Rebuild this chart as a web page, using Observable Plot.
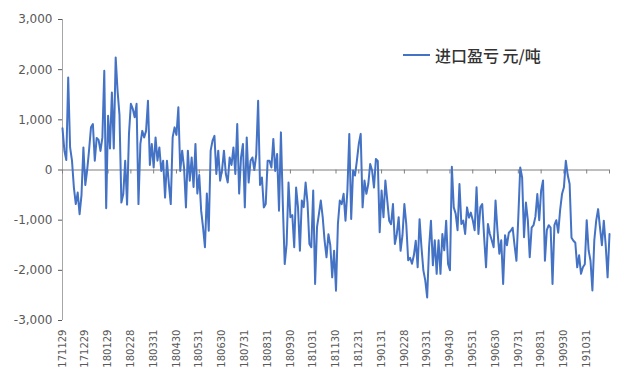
<!DOCTYPE html>
<html>
<head>
<meta charset="utf-8">
<script src="https://cdn.jsdelivr.net/npm/d3@7"></script>
<script src="https://cdn.jsdelivr.net/npm/@observablehq/plot@0.6"></script>
<style>
  body { margin: 0; background: #fff; }
  #chart { position: relative; width: 631px; height: 371px; }
  .legend {
    position: absolute; left: 403px; top: 43px;
    display: flex; align-items: center;
    font: 500 16px "Noto Sans CJK SC", sans-serif; color: #333;
  }
  .legend .swatch { width: 27px; height: 0; border-top: 2px solid #4472c4; margin-right: 5px; }
</style>
</head>
<body>
<div id="chart"></div>
<script>
// Series label
const seriesName = "进口盈亏 元/吨";

// Category labels shown under the axis (one every 12 observations)
const dateLabels = [
  "171129", "171229", "180129", "180228", "180331", "180430",
  "180531", "180630", "180731", "180831", "180930", "181031",
  "181130", "181231", "190131", "190228", "190331", "190430",
  "190531", "190630", "190731", "190831", "190930", "191031"
];
const pointsPerLabel = 12;

// Import profit / loss, yuan per tonne
const profit = [
  830, 385, 200, 1845, 450, 185, -350, -680, -450, -880, -500, 450,
  -300, 0, 400, 850, 915, 185, 640, 600, 380, 650, 1980, -760,
  1080, 430, 1545, 430, 2245, 1575, 1100, -650, -480, 185, -690, 720,
  1320, 1220, 1050, 1320, -680, 520, 780, 650, 780, 1380, 100, 520,
  50, 650, 185, 450, -20, 185, -550, 185, -280, -680, 650, 850,
  700, 1250, -20, 385, 50, -745, 385, -213, 250, -340, 520, -470,
  -100, -810, -1145, -1540, -470, -1210, 385, 585, 680, -80, 385, -213,
  0, 385, -80, -250, 250, 100, 450, -80, 915, -470, 250, 520,
  -745, 650, -250, 185, 250, 0, 300, 1380, -300, -150, -745, -680,
  185, 185, 50, 620, -20, 320, -810, 750, -680, -1875, -1480, -250,
  -940, -900, -1540, -350, -745, -1610, -610, -740, -250, -650, -1475, -1540,
  -410, -2270, -1140, -880, -610, -940, -1410, -1740, -1280, -1500, -2140, -1610,
  -2405, -1080, -610, -680, -475, -1010, -410, 720, -975, -10, -110, 185,
  520, 720, -745, -210, -475, -280, 120, -10, -350, 220, 180, -1240,
  -410, -940, -210, -610, -1010, -1080, -680, -1475, -1280, -940, -1610, -1300,
  -680, -1080, -1800, -1750, -1870, -1700, -1410, -1940, -980, -1540, -2000, -2200,
  -2540, -1540, -1010, -1900, -1400, -2070, -1400, -2070, -1275, -1600, -1010, -1875,
  -2000, 65, -745, -870, -1200, -280, -1075, -1010, -1275, -745, -950, -850,
  -1000, -1200, -345, -1275, -745, -680, -1340, -1940, -1075, -1275, -1400, -1540,
  -610, -1200, -1670, -1400, -2270, -1300, -1500, -1250, -1210, -1150, -1500, -1810,
  -930, 50, -150, -1340, -650, -1000, -1740, -1150, -1100, -930, -480, -1000,
  -410, -210, -1810, -1200, -1100, -1150, -2270, -1100, -1000, -1250, -800, -480,
  -345, 185, -100, -280, -1350, -1410, -1450, -1940, -1700, -2070, -1940, -1880,
  -1000, -1600, -1810, -2400, -1400, -1010, -780, -1150, -1500, -1010, -1500, -2140,
  -1275
];

const yTicks = [-3000, -2000, -1000, 0, 1000, 2000, 3000];

const W = 631, H = 371;
const margin = { top: 19, right: 22, bottom: 51, left: 62 };
const frameH = H - margin.top - margin.bottom;
const unitsPerPx = (yTicks[yTicks.length - 1] - yTicks[0]) / frameH;

const data = profit.map((v, i) => ({ i, v }));
const tickIdx = d3.range(0, dateLabels.length * pointsPerLabel + 1, pointsPerLabel);

// thousands separator with a plain hyphen for negatives
const fmt = d => (d < 0 ? "-" : "") + Math.abs(d).toLocaleString("en-US");

const chart = Plot.plot({
  width: W,
  height: H,
  marginTop: margin.top,
  marginRight: margin.right,
  marginBottom: margin.bottom,
  marginLeft: margin.left,
  style: { fontFamily: "DejaVu Sans", background: "#fff", overflow: "visible" },
  x: { domain: [0, tickIdx[tickIdx.length - 1]], label: null },
  y: { domain: [yTicks[0], yTicks[yTicks.length - 1]], label: null },
  marks: [
    // vertical value axis line
    Plot.ruleX([0], { stroke: "#a6a6a6", strokeWidth: 1 }),
    Plot.axisY({
      ticks: yTicks,
      tickFormat: fmt,
      tickSize: 4,
      tickPadding: 6,
      fontSize: 12,
      color: "#595959",
      label: null
    }),
    // horizontal category axis at zero, with small downward ticks
    Plot.ruleY([0], { stroke: "#7f7f7f", strokeWidth: 1 }),
    Plot.ruleX(tickIdx, { x: d => d, y1: 0, y2: -4 * unitsPerPx, stroke: "#7f7f7f", strokeWidth: 1 }),
    Plot.axisX({
      ticks: tickIdx.slice(0, -1),
      tickFormat: d => dateLabels[d / pointsPerLabel],
      tickSize: 0,
      tickPadding: 9,
      tickRotate: -90,
      fontSize: 10,
      color: "#595959",
      label: null
    }),
    Plot.line(data, { x: "i", y: "v", stroke: "#4472c4", strokeWidth: 2, strokeLinejoin: "round" })
  ]
});

const host = document.getElementById("chart");
host.appendChild(chart);

const legend = document.createElement("div");
legend.className = "legend";
const swatch = document.createElement("span");
swatch.className = "swatch";
const label = document.createElement("span");
label.textContent = seriesName;
legend.append(swatch, label);
host.appendChild(legend);
</script>
</body>
</html>
